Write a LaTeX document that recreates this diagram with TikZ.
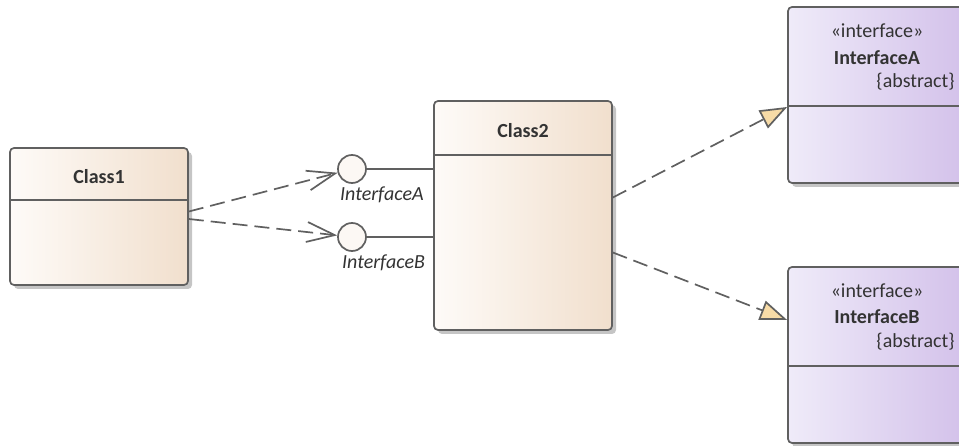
\documentclass[tikz,border=0pt]{standalone}
\usepackage{fontspec}
\setmainfont{Carlito}
\usetikzlibrary{positioning, arrows.meta, shadows}
\definecolor{edge}{HTML}{606060}
\definecolor{ink}{HTML}{333333}
\definecolor{classlight}{HTML}{FEFBF8}
\definecolor{classdark}{HTML}{F1DFCD}
\definecolor{ifacelight}{HTML}{EFEBF9}
\definecolor{ifacedark}{HTML}{D3C1EA}
\definecolor{tipfill}{HTML}{F7DBA7}
\definecolor{ballfill}{HTML}{FCF8F4}
\tikzset{
  umlshadow/.style = {drop shadow={shadow xshift=4pt, shadow yshift=-4pt,
                      fill=black!45, opacity=0.5}},
  umlclass/.style  = {rectangle, rounded corners=4pt, draw=edge, line width=1.7pt,
                      left color=classlight, right color=classdark,
                      minimum width=178pt, inner sep=0pt, umlshadow},
  umliface/.style  = {rectangle, rounded corners=4pt, draw=edge, line width=1.7pt,
                      left color=ifacelight, right color=ifacedark,
                      minimum width=178pt, minimum height=176pt, inner sep=0pt, umlshadow},
  title/.style     = {font=\fontsize{20}{23}\selectfont\bfseries, text=ink, inner sep=0pt},
  stereo/.style    = {font=\fontsize{20}{23}\selectfont, text=ink, inner sep=0pt},
  lbl/.style       = {font=\fontsize{20}{23}\selectfont\itshape, text=ink, inner sep=0pt},
  ball/.style      = {circle, draw=edge, line width=1.7pt, fill=ballfill,
                      minimum size=28pt, inner sep=0pt},
  divider/.style   = {draw=edge, line width=1.7pt},
  wire/.style      = {draw=edge, line width=1.7pt},
  dep/.style       = {draw=edge, line width=1.7pt, dash pattern=on 15pt off 7pt,
                      -{Straight Barb[length=28pt,width=20pt,line width=1.7pt]}},
  real/.style      = {draw=edge, line width=1.7pt, dash pattern=on 15pt off 7pt,
                      -{Triangle[length=27pt,width=20pt,fill=tipfill,line width=1.7pt]}},
}
\begin{document}
\begin{tikzpicture}[x=1pt, y=-1pt]
  \clip (0,0) rectangle (959,446);

  % classes
  \node[umlclass, minimum height=137pt] (c1) at (99,216.5) {};
  \draw[divider] ([yshift=-53pt]c1.north west) -- ([yshift=-53pt]c1.north east);
  \node[title] (c1t) at ([yshift=-29pt]c1.north) {Class1};

  \node[umlclass, minimum height=229pt] (c2) at (523,215.5) {};
  \draw[divider] ([yshift=-55pt]c2.north west) -- ([yshift=-55pt]c2.north east);
  \node[title] (c2t) at ([yshift=-30pt]c2.north) {Class2};

  % interfaces
  \node[umliface] (ia) at (877,95) {};
  \draw[divider] ([yshift=-100pt]ia.north west) -- ([yshift=-100pt]ia.north east);
  \node[stereo] (ias) at ([yshift=-25pt]ia.north) {«interface»};
  \node[title]  (ian) at ([yshift=-51pt]ia.north) {InterfaceA};
  \node[stereo, anchor=east] (iaa) at ([xshift=-12pt, yshift=-75pt]ia.north east) {\{abstract\}};

  \node[umliface] (ib) at (877,355) {};
  \draw[divider] ([yshift=-100pt]ib.north west) -- ([yshift=-100pt]ib.north east);
  \node[stereo] (ibs) at ([yshift=-25pt]ib.north) {«interface»};
  \node[title]  (ibn) at ([yshift=-50pt]ib.north) {InterfaceB};
  \node[stereo, anchor=east] (iba) at ([xshift=-12pt, yshift=-75pt]ib.north east) {\{abstract\}};

  % provided interfaces of Class2
  \node[ball] (pa) at (352,169) {};
  \node[lbl, anchor=west] (pal) at (340,195) {InterfaceA};
  \node[ball] (pb) at (352,237) {};
  \node[lbl, anchor=west] (pbl) at (342,263) {InterfaceB};

  \draw[wire] (pa.east) -- (pa.east -| c2.west);
  \draw[wire] (pb.east) -- (pb.east -| c2.west);

  % usage
  \draw[dep] ([yshift=5pt]c1.east) -- (pa);
  \draw[dep] ([yshift=-2.5pt]c1.east) -- (pb);

  % realization
  \draw[real] ([yshift=18pt]c2.east) -- ([yshift=-12pt]ia.west);
  \draw[real] ([yshift=-37pt]c2.east) -- ([yshift=35pt]ib.west);
\end{tikzpicture}
\end{document}
